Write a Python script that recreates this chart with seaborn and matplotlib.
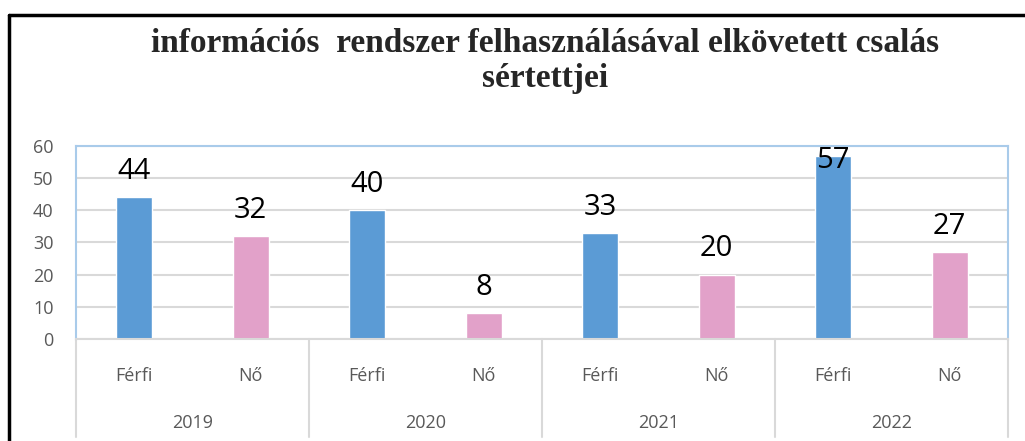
import pandas as pd
import matplotlib.pyplot as plt
import seaborn as sns
from matplotlib.lines import Line2D

# adatok
years = ['2019', '2020', '2021', '2022']
sexes = ['Férfi', 'Nő']
ferfi = [44, 40, 33, 57]
no = [32, 8, 20, 27]

rows = []
for i, y in enumerate(years):
    rows.append({'kat': f'{y} Férfi', 'Nem': 'Férfi', 'ev': y, 'db': ferfi[i]})
    rows.append({'kat': f'{y} Nő', 'Nem': 'Nő', 'ev': y, 'db': no[i]})
df = pd.DataFrame(rows)

sns.set_style('white')
plt.rcParams['font.family'] = ['Open Sans', 'DejaVu Sans']

fig = plt.figure(figsize=(10.25, 4.41), dpi=100)
ax = fig.add_axes([0.0741, 0.2313, 0.9093, 0.4377])

sns.barplot(data=df, x='kat', y='db', hue='Nem', order=df['kat'], hue_order=sexes,
            palette={'Férfi': '#5b9bd5', 'Nő': '#e2a1c9'}, dodge=False, width=0.31,
            legend=False, ax=ax, saturation=1)

ax.set_ylim(0, 60)
ax.set_xlim(-0.5, len(df) - 0.5)
ax.set_yticks(range(0, 61, 10))
ax.yaxis.grid(True, color='#d9d9d9', linewidth=1.5)
ax.set_axisbelow(True)
ax.set_xlabel('')
ax.set_ylabel('')
ax.set_xticks(range(len(df)))
ax.set_xticklabels(df['Nem'])
ax.tick_params(axis='x', length=0, pad=20, labelsize=13, labelcolor='#595959')
ax.tick_params(axis='y', length=0, pad=16, labelsize=13, labelcolor='#595959')

for s in ['top', 'left', 'right']:
    ax.spines[s].set_color('#a9cbea')
    ax.spines[s].set_linewidth(1.5)
ax.spines['bottom'].set_color('#d9d9d9')
ax.spines['bottom'].set_linewidth(1.5)

# ertekek a oszlopok felett
for i, v in enumerate(df['db']):
    ax.text(i, min(v + 3.5, 51), str(v), ha='center', va='bottom', fontsize=21, color='black')

# evek es elvalaszto vonalak
for k in range(len(years) + 1):
    ax.plot([k * 2 - 0.5, k * 2 - 0.5], [0, -0.51], transform=ax.get_xaxis_transform(),
            color='#d9d9d9', linewidth=1.5, clip_on=False)
for k, y in enumerate(years):
    ax.text(k * 2 + 0.5, -0.435, y, transform=ax.get_xaxis_transform(),
            ha='center', va='center', fontsize=13, color='#595959')

fig.text(0.532, 0.902, 'információs  rendszer felhasználásával elkövetett csalás',
         ha='center', va='center', fontsize=24, fontweight='bold', family='Liberation Serif')
fig.text(0.532, 0.823, 'sértettjei',
         ha='center', va='center', fontsize=24, fontweight='bold', family='Liberation Serif')

# kulso keret
fig.add_artist(Line2D([0.009, 0.009], [0, 0.966], color='black', linewidth=2.5))
fig.add_artist(Line2D([0.009, 1], [0.966, 0.966], color='black', linewidth=2.5))

plt.savefig('out.png', dpi=100)
